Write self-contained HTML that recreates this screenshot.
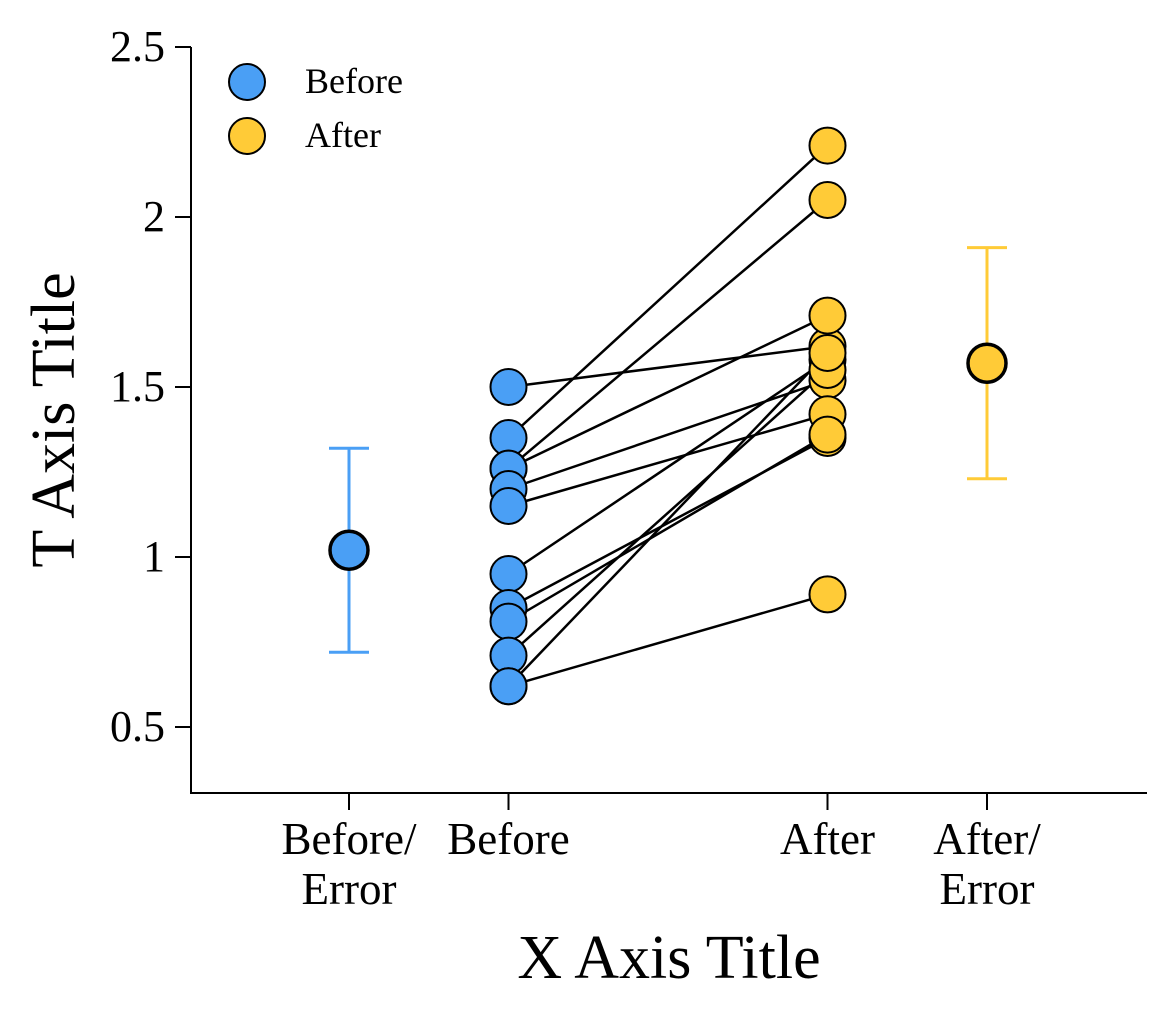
<!DOCTYPE html>
<html><head><meta charset="utf-8"><style>
body{margin:0;background:#fff;}
svg text{font-family:"Liberation Serif",serif;fill:#000;}
</style></head><body>
<svg id="chart" width="1176" height="1021">
</svg>
<script>
const beforeVals=[1.50,1.35,1.26,1.26,1.20,1.15,0.95,0.85,0.81,0.71,0.62,0.62];
const afterVals=[1.62,2.21,2.05,1.71,1.52,1.42,1.58,1.35,1.36,1.55,1.60,0.89];
const meanVals=[1.02,1.57];
const errLow=[0.72,1.23];
const errHigh=[1.32,1.91];
const yTicks=[0.5,1,1.5,2,2.5];
const yTickLabels=["0.5","1","1.5","2","2.5"];
const xCats=[["Before/","Error"],["Before"],["After"],["After/","Error"]];
const xCatPos=[0,1,3,4];

const NS="http://www.w3.org/2000/svg";
const svg=document.getElementById('chart');
function y(v){return 727-(v-0.5)*340;}
function x(i){return 349+i*159.5;}
function mk(tag,attrs,parent){const e=document.createElementNS(NS,tag);for(const k in attrs)e.setAttribute(k,attrs[k]);(parent||svg).appendChild(e);return e;}
const BLUE="#4a9ff5",YEL="#ffcb37";

let e=mk('line',{x1:191,y1:47,x2:191,y2:794,stroke:'#000','stroke-width':2});


e=mk('line',{x1:190,y1:793,x2:1147,y2:793,stroke:'#000','stroke-width':2});



yTicks.forEach((t,i)=>{
  const l=mk('line',{x1:175,y1:y(t),x2:191,y2:y(t),stroke:'#000','stroke-width':2});
  
  
  const tx=mk('text',{x:165,y:y(t)+14,'text-anchor':'end','font-size':44});
  tx.textContent=yTickLabels[i];
  
  
});
xCats.forEach((c,i)=>{
  const px=x(xCatPos[i]);
  const l=mk('line',{x1:px,y1:793,x2:px,y2:810,stroke:'#000','stroke-width':2});
  
  
  c.forEach((s,j)=>{
    const tx=mk('text',{x:px,y:854+j*50,'text-anchor':'middle','font-size':45});
    tx.textContent=s;
    
    
  });
});
e=mk('text',{x:669,y:978,'text-anchor':'middle','font-size':62});
e.textContent='X Axis Title';


e=mk('text',{x:74,y:420,'text-anchor':'middle','font-size':62,transform:'rotate(-90 74 420)'});
e.textContent='T Axis Title';



beforeVals.forEach((b,i)=>{
  const l=mk('line',{x1:x(1),y1:y(b),x2:x(3),y2:y(afterVals[i]),stroke:'#000','stroke-width':2.5});
  
  
});
afterVals.forEach(a=>{
  const c=mk('circle',{cx:x(3),cy:y(a),r:18,fill:YEL,stroke:'#000','stroke-width':2});
  
  
});
beforeVals.forEach(b=>{
  const c=mk('circle',{cx:x(1),cy:y(b),r:18,fill:BLUE,stroke:'#000','stroke-width':2});
  
  
});
[0,1].forEach(i=>{
  const px=x(i===0?0:4), col=i===0?BLUE:YEL;
  const g=mk('g',{});
  
  
  mk('line',{x1:px,y1:y(errLow[i]),x2:px,y2:y(errHigh[i]),stroke:col,'stroke-width':3},g);
  mk('line',{x1:px-20,y1:y(errLow[i]),x2:px+20,y2:y(errLow[i]),stroke:col,'stroke-width':3},g);
  mk('line',{x1:px-20,y1:y(errHigh[i]),x2:px+20,y2:y(errHigh[i]),stroke:col,'stroke-width':3},g);
  const c=mk('circle',{cx:px,cy:y(meanVals[i]),r:19,fill:col,stroke:'#000','stroke-width':3.5});
  
  
});
[["Before",BLUE,82],["After",YEL,136]].forEach(([t,col,py])=>{
  const g=mk('g',{});
  
  
  mk('circle',{cx:247,cy:py,r:18,fill:col,stroke:'#000','stroke-width':2},g);
  const tx=mk('text',{x:305,y:py+11,'font-size':36},g);
  tx.textContent=t;
});
</script>
</body></html>
